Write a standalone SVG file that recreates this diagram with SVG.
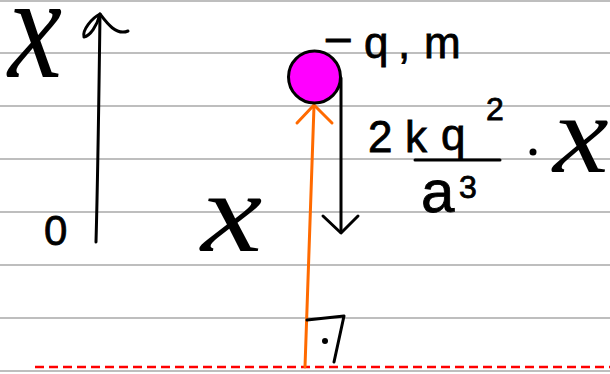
<svg xmlns="http://www.w3.org/2000/svg" width="610" height="374" viewBox="0 0 610 374">
<style>
.rule{stroke:#a9a9a9;stroke-width:1.5}
.ink{fill:none;stroke:#000;stroke-width:3;stroke-linecap:round;stroke-linejoin:round}
.or{fill:none;stroke:#ff6a00;stroke-width:3;stroke-linecap:round;stroke-linejoin:round}
.t{font-family:"Liberation Sans",Arial,sans-serif;fill:#000;stroke:#000;stroke-width:0.8}
.v{font-family:"Liberation Serif","Times New Roman",serif;font-style:italic;fill:#000}
</style>
<rect width="610" height="374" fill="#fff"/>
<g id="ruled-lines">
<line class="rule" x1="0" y1="1" x2="610" y2="1"/>
<line class="rule" x1="0" y1="53" x2="610" y2="53"/>
<line class="rule" x1="0" y1="106" x2="610" y2="106"/>
<line class="rule" x1="0" y1="159" x2="610" y2="159"/>
<line class="rule" x1="0" y1="212" x2="610" y2="212"/>
<line class="rule" x1="0" y1="265" x2="610" y2="265"/>
<line class="rule" x1="0" y1="318" x2="610" y2="318"/>
<line class="rule" x1="0" y1="371" x2="610" y2="371"/>
</g>
<g id="ground">
<line x1="35" y1="367" x2="610" y2="367" stroke="#ff0000" stroke-width="2.5" stroke-dasharray="9,5"/>
</g>
<g id="axis">
<path class="ink" d="M96,242 C98,170 99,90 100,14"/>
<path class="ink" d="M100,14 C92,18 82,30 84,37 C90,36 97,26 100,14 C106,22 116,36 128,31"/>
<text class="v" font-size="106" transform="translate(8,77) scale(1.15,1.4)">x</text>
<text class="t" x="44" y="245" font-size="42">0</text>
</g>
<g id="connectors">
<path class="or" d="M305,367 L314,106"/>
<path class="or" d="M297,123 L314,105 L332,123"/>
<path class="ink" d="M341,78 L341,232"/>
<path class="ink" d="M323,216 L341,233 L358,216"/>
</g>
<g id="charge">
<circle cx="314.5" cy="77" r="26" fill="#ff00ff" stroke="#000" stroke-width="3"/>
<text class="t" font-size="44"><tspan x="326" y="52">–</tspan><tspan x="364" y="58">q</tspan><tspan x="398" y="58">,</tspan><tspan x="424" y="58">m</tspan></text>
</g>
<g id="force-label">
<text class="t" font-size="44"><tspan x="368" y="152">2</tspan><tspan x="405" y="152">k</tspan><tspan x="441" y="150">q</tspan></text>
<text class="t" x="486" y="120" font-size="32">2</text>
<line class="ink" x1="415" y1="160" x2="500" y2="160"/>
<text class="t" x="421" y="212" font-size="60">a</text>
<text class="t" x="459" y="198" font-size="32">3</text>
<circle cx="533" cy="152" r="3.5" fill="#000"/>
<text class="v" font-size="112" transform="translate(553,172) scale(1.12,1)">x</text>
</g>
<g id="distance-label">
<text class="v" font-size="115" transform="translate(201,251) scale(1.2,1)">x</text>
</g>
<g id="right-angle">
<path class="ink" d="M307,320 L344,316 L334,362"/>
<circle cx="325" cy="341" r="3" fill="#000"/>
</g>
</svg>
